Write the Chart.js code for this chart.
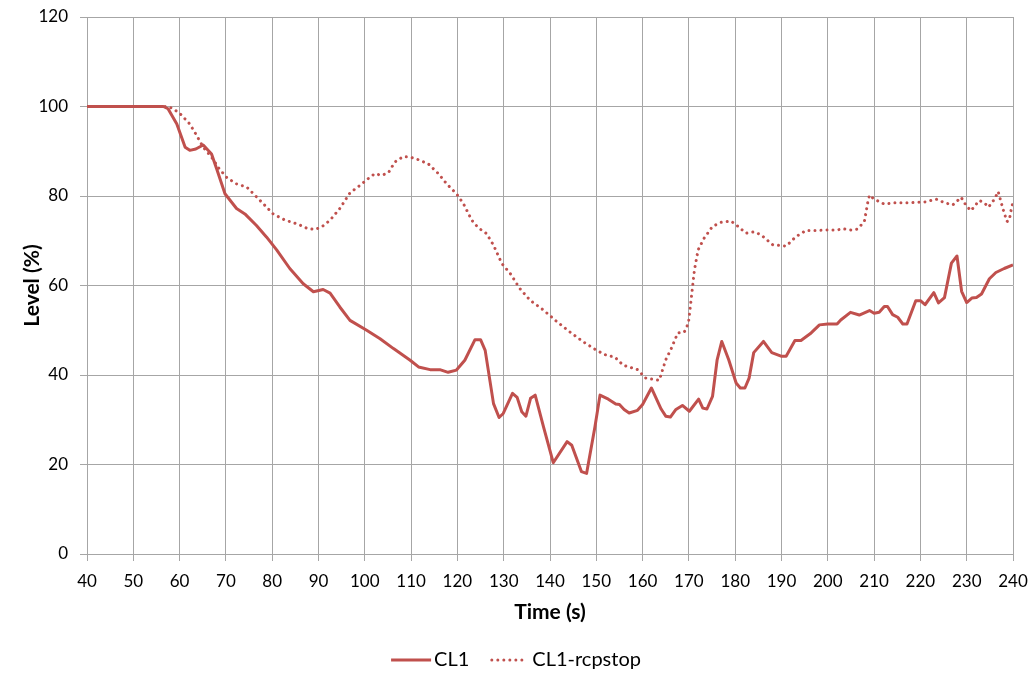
<!DOCTYPE html>
<html>
<head>
<meta charset="utf-8">
<script src="https://cdn.jsdelivr.net/npm/chart.js@4/dist/chart.umd.min.js"></script>
<style>
  html, body { margin: 0; padding: 0; background: #fff; }
  #wrap { width: 1032px; height: 675px; }
</style>
</head>
<body>
<div id="wrap"><canvas id="c" width="1032" height="675"></canvas></div>
<script>
const seriesNames = ["CL1", "CL1-rcpstop"];
const xTitle = "Time (s)";
const yTitle = "Level (%)";

const timeCL1 = [
  40, 56.5, 57.5, 59.4, 61.2, 62.2, 63.5, 65.1, 66.9, 68,
  69.8, 72.3, 74.1, 76.6, 78.8, 81, 83.8, 86.7, 88.9, 91,
  92.5, 94.6, 96.8, 100.4, 103.3, 106.2, 109.8, 111.6, 114.1, 116.2,
  118, 119.8, 121.6, 123.8, 125, 126, 127.8, 129, 129.9, 131.9,
  132.9, 133.9, 134.8, 135.8, 136.8, 138.6, 140.7, 143.7, 144.7, 146.8,
  147.9, 149.7, 150.8, 152.6, 154.2, 155, 156, 157.1, 158.9, 160,
  161.9, 164, 165, 166, 167.2, 168.6, 170.1, 172.1, 173, 173.9,
  175.1, 176.1, 177.1, 178.6, 180.2, 181.1, 182.1, 183, 184, 186.1,
  187.9, 189.9, 191, 192.9, 194.2, 196.4, 198.2, 200, 202, 202.8,
  204.9, 206.8, 209, 210, 211.1, 212.2, 212.9, 214, 215.1, 216.2,
  217.1, 219, 220, 221, 222.9, 223.9, 225.2, 226.7, 227.9, 228.9,
  230, 231.1, 232.1, 233.2, 234.9, 236.3, 238.1, 240
];
const levelCL1 = [
  100, 100, 99.5, 96.1, 90.9, 90.2, 90.5, 91.4, 89.4, 86.1,
  80.5, 77.2, 76, 73.4, 70.8, 67.9, 63.8, 60.4, 58.6, 59.1,
  58.3, 55.2, 52.2, 50, 48.1, 45.9, 43.3, 41.8, 41.2, 41.2,
  40.6, 41.1, 43.3, 47.9, 47.9, 45.5, 33.6, 30.5, 31.4, 35.9,
  35, 31.8, 30.8, 34.8, 35.5, 28.4, 20.4, 25.1, 24.3, 18.4,
  18, 28.4, 35.5, 34.6, 33.5, 33.4, 32.3, 31.5, 32.1, 33.4,
  37.1, 32.4, 30.8, 30.6, 32.3, 33.2, 31.9, 34.6, 32.6, 32.4,
  35.2, 43.4, 47.5, 43.4, 38.2, 37.1, 37.1, 39.3, 45, 47.5,
  45, 44.2, 44.2, 47.7, 47.7, 49.4, 51.2, 51.4, 51.4, 52.3,
  54, 53.4, 54.4, 53.8, 54, 55.3, 55.3, 53.5, 52.9, 51.4,
  51.4, 56.6, 56.6, 55.7, 58.4, 56.1, 57.3, 65, 66.6, 58.7,
  56.2, 57.2, 57.3, 58.1, 61.5, 62.9, 63.8, 64.6
];

const timeStop = [
  40, 57.5, 58.6, 60.1, 62.2, 63.7, 65.1, 66.9, 68.4, 70.2,
  72.3, 74.5, 77, 78.8, 80.2, 82.8, 85.6, 87.5, 89.2, 90.7,
  92.5, 94.6, 96.8, 99, 101.1, 102.2, 103.6, 105.1, 106.5, 108.3,
  109.8, 111.6, 113.7, 115.9, 117.7, 119.8, 121.3, 123.1, 124.5, 126.3,
  127.8, 129.6, 131.4, 133.5, 135.7, 138.6, 141.5, 144.3, 147.2, 150.1,
  152.2, 154, 155.8, 158.9, 160.7, 163.6, 165, 166.1, 167.6, 169,
  169.9, 170.4, 171.2, 172, 173.3, 175.1, 176.9, 179.1, 180.5, 182.3,
  184.1, 185.6, 188.1, 191, 193.1, 195.3, 197.8, 200, 202.1, 203.2,
  205, 206.4, 207.9, 208.6, 209, 210, 212.2, 214.4, 218, 221.2,
  223.4, 225.2, 227, 228.8, 229.8, 230.9, 232.7, 233.8, 234.7, 236,
  236.8, 237.8, 238.7, 239.2, 239.6, 240
];
const levelStop = [
  100, 100, 99.5, 98.4, 96.1, 93.5, 90.9, 88.7, 86.3, 84.1,
  82.7, 82, 79.4, 77.5, 76, 74.6, 73.7, 72.8, 72.5, 73.1,
  74.6, 77.2, 80.7, 82.4, 84.2, 85, 84.6, 85.2, 87.6, 88.8,
  88.7, 88.1, 87.2, 85, 82.7, 80.5, 78.3, 74.6, 72.9, 71.6,
  69, 64.9, 62.7, 59.3, 56.7, 54.5, 51.9, 49.6, 47.4, 45.5,
  44.4, 44, 42.2, 41.2, 39.3, 38.8, 43.4, 45.7, 49.4, 49.6,
  51.6, 56.1, 63.5, 68, 70.6, 73.2, 74.1, 74.4, 73.3, 71.7,
  72, 71.3, 69.1, 68.8, 70.9, 72.3, 72.3, 72.4, 72.4, 72.7,
  72.4, 72.6, 74.3, 78.4, 80.2, 79.3, 78.2, 78.5, 78.5, 78.7,
  79.3, 78.5, 78, 79.7, 78, 76.7, 79, 78.5, 77.5, 79.3,
  81, 77.2, 74.3, 74.6, 76.9, 78.7
];

const xMin = 40, xMax = 240, xStep = 10;
const yMin = 0, yMax = 120, yStep = 20;

const toPts = (xs, ys) => xs.map((x, i) => ({ x: x, y: ys[i] }));

const RED = '#c0504d';
const GRID = '#a6a6a6';
const FONT = 'Lato, "Open Sans", "Liberation Sans", sans-serif';
const DOT_DASH = [0.01, 6];

const bgPlugin = {
  id: 'bg',
  beforeDraw(chart) {
    const ctx = chart.ctx;
    ctx.save();
    ctx.fillStyle = '#fff';
    ctx.fillRect(0, 0, chart.width, chart.height);
    ctx.restore();
  }
};

// Legend drawn below the axis title, reading labels and styles from the datasets
const legendPlugin = {
  id: 'bottomLegend',
  afterDraw(chart) {
    const ctx = chart.ctx;
    const ds = chart.data.datasets;
    ctx.save();
    ctx.font = '20px ' + FONT;
    ctx.textBaseline = 'middle';
    const sampleW = [40, 34];
    const textGap = [3, 8];
    const itemGap = 21;
    const widths = ds.map((d, i) => sampleW[i] + textGap[i] + ctx.measureText(d.label).width);
    const total = widths.reduce((a, b) => a + b, 0) + itemGap * (ds.length - 1);
    let x = chart.width / 2 - total / 2;
    const y = chart.height - 15;
    ds.forEach((d, i) => {
      ctx.beginPath();
      ctx.strokeStyle = d.borderColor;
      ctx.lineWidth = d.borderWidth;
      ctx.setLineDash(d.borderDash || []);
      ctx.lineCap = d.borderCapStyle || 'butt';
      const x0 = i === 1 ? x + 1.5 : x;
      ctx.moveTo(x0, y);
      ctx.lineTo(x + sampleW[i], y);
      ctx.stroke();
      ctx.setLineDash([]);
      ctx.fillStyle = '#000';
      ctx.fillText(d.label, x + sampleW[i] + textGap[i], y);
      x += widths[i] + itemGap;
    });
    ctx.restore();
  }
};

new Chart(document.getElementById('c'), {
  type: 'line',
  data: {
    datasets: [
      {
        label: seriesNames[0],
        data: toPts(timeCL1, levelCL1),
        borderColor: RED,
        backgroundColor: RED,
        borderWidth: 3,
        pointRadius: 0,
        tension: 0,
        borderJoinStyle: 'round'
      },
      {
        label: seriesNames[1],
        data: toPts(timeStop, levelStop),
        borderColor: RED,
        backgroundColor: RED,
        borderWidth: 3,
        borderDash: DOT_DASH,
        borderCapStyle: 'round',
        pointRadius: 0,
        tension: 0
      }
    ]
  },
  options: {
    responsive: false,
    animation: false,
    devicePixelRatio: 1,
    layout: { padding: { top: 17, right: 19, bottom: 34, left: 10 } },
    plugins: {
      tooltip: { enabled: false },
      legend: { display: false }
    },
    scales: {
      x: {
        type: 'linear',
        min: xMin, max: xMax,
        afterFit(scale) { scale.height = 87; scale.paddingLeft = 0; scale.paddingRight = 0; },
        ticks: {
          stepSize: xStep,
          color: '#000',
          padding: 10,
          maxRotation: 0,
          font: { family: FONT, size: 17 }
        },
        grid: { color: GRID, lineWidth: 1, tickLength: 7, drawTicks: true },
        border: { color: GRID, width: 1 },
        title: {
          display: true, text: xTitle, color: '#000',
          font: { family: FONT, size: 21, weight: 'bold' },
          padding: { top: 0, bottom: 16 }
        }
      },
      y: {
        min: yMin, max: yMax,
        afterFit(scale) { scale.width = 77; scale.paddingTop = 0; scale.paddingBottom = 0; },
        ticks: {
          stepSize: yStep,
          color: '#000',
          padding: 12,
          font: { family: FONT, size: 17 }
        },
        grid: { color: GRID, lineWidth: 1, tickLength: 7 },
        border: { color: GRID, width: 1 },
        title: {
          display: true, text: yTitle, color: '#000',
          font: { family: FONT, size: 21, weight: 'bold' },
          padding: { top: 10, bottom: 0 }
        }
      }
    }
  },
  plugins: [bgPlugin, legendPlugin]
});
</script>
</body>
</html>
